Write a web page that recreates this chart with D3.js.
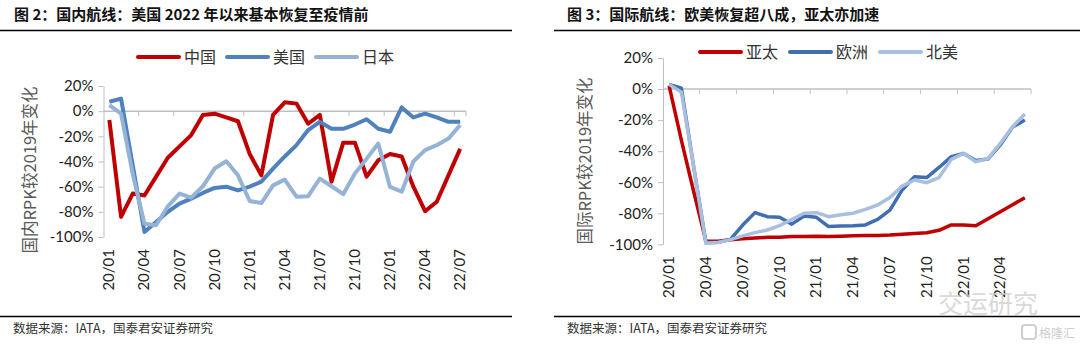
<!DOCTYPE html>
<html>
<head>
<meta charset="utf-8">
<script src="https://cdn.jsdelivr.net/npm/d3@7"></script>
<style>
  html, body { margin: 0; padding: 0; background: #fff; }
  svg { display: block; }
</style>
</head>
<body>
<div id="chart"></div>
<script>
// month categories
const months = ["20/01","20/02","20/03","20/04","20/05","20/06","20/07","20/08","20/09","20/10","20/11","20/12",
  "21/01","21/02","21/03","21/04","21/05","21/06","21/07","21/08","21/09","21/10","21/11","21/12",
  "22/01","22/02","22/03","22/04","22/05","22/06","22/07"]
const intlMonths = months.slice(0, 30)

// fig 2: domestic RPK vs 2019 (%)
const china = [-7,-84,-65.5,-67,-52,-37,-28,-19,-3,-2,-5,-8,-34,-51,-3,7,6,-10,-3,-56,-25,-25,-52,-39,-34,-36,-60,-79.5,-72,-51,-30]
const usa = [7.5,10,-43,-96,-88,-80,-73.5,-69.5,-65,-61,-60,-63,-60,-56,-45.6,-36,-27,-15,-8.5,-14,-14,-10.6,-6.4,-14,-16.4,3,-5,-2,-5,-8.5,-8.5]
const japan = [4.8,-2,-50,-89.4,-90.7,-75.6,-65.5,-68.7,-59.7,-45.6,-39.8,-51,-71.4,-73,-59,-54.4,-68,-67.6,-53.6,-59.7,-66,-49.6,-37.7,-25.7,-60.2,-64,-40,-31,-27,-21.8,-11]

// fig 3: international RPK vs 2019 (%)
const apac = [2,-33,-66,-98,-98,-97,-96.5,-96,-95.5,-95.5,-95,-95,-94.8,-95,-94.8,-94.5,-94.3,-94.3,-94,-93.5,-93,-92.5,-91,-87.5,-87.5,-88,-83.5,-79,-74.5,-70]
const europe = [3,0.5,-50,-99,-98.7,-96.8,-87.6,-79.6,-82.2,-82.6,-87,-81.8,-82.6,-88.6,-88.2,-88,-87.5,-84,-78,-65,-56.5,-57,-50.5,-43.5,-41.5,-46,-45,-36,-24.5,-20]
const northAm = [3,-2,-50,-99.4,-98.8,-97,-94.6,-92.5,-90.8,-88,-84,-80,-79.6,-82.2,-81,-80,-77.5,-74.7,-69.8,-62.5,-58.6,-60.3,-57,-45.3,-41.4,-46.8,-44.7,-35,-24.3,-16]

const yTicks = [20, 0, -20, -40, -60, -80, -100]
const leftLabels = ["20/01","20/04","20/07","20/10","21/01","21/04","21/07","21/10","22/01","22/04","22/07"]
const rightLabels = ["20/01","20/04","20/07","20/10","21/01","21/04","21/07","21/10","22/01","22/04"]

const W = 1080, H = 352
const svg = d3.select("#chart").append("svg")
  .attr("width", W).attr("height", H)
  .attr("viewBox", [0, 0, W, H])

const cjk = "'Noto Sans CJK SC', sans-serif"
const num = "Lato, 'Open Sans', sans-serif"
const axisGrey = "#BFBFBF"

const drawPanel = cfg => {
  const g = svg.append("g")

  // title + rules
  g.append("text")
    .attr("x", cfg.titleX).attr("y", 20)
    .attr("font-family", cjk).attr("font-weight", "bold")
    .attr("font-size", 15).attr("fill", "#111")
    .text(cfg.title)
  g.append("line")
    .attr("x1", cfg.ruleX[0]).attr("x2", cfg.ruleX[1])
    .attr("y1", 30.5).attr("y2", 30.5)
    .attr("stroke", "#000").attr("stroke-width", 1.5)
  g.append("line")
    .attr("x1", cfg.ruleX[0]).attr("x2", cfg.ruleX[1])
    .attr("y1", 316.5).attr("y2", 316.5)
    .attr("stroke", "#000").attr("stroke-width", 1.5)
  g.append("text")
    .attr("x", cfg.ruleX[0] + 13).attr("y", 333)
    .attr("font-family", cjk).attr("font-size", 12.5).attr("fill", "#333")
    .text("数据来源：IATA，国泰君安证券研究")

  const x = d3.scaleBand()
    .domain(cfg.cats)
    .range(cfg.xRange)
    .padding(0)
  const y = d3.scaleLinear()
    .domain([-100, 20])
    .range(cfg.yRange)
  const cx = d => x(d) + x.bandwidth() / 2

  // y axis
  const yAxis = d3.axisLeft(y).tickValues(yTicks).tickSize(5).tickSizeOuter(0)
    .tickFormat(d => d + "%")
  g.append("g")
    .attr("transform", `translate(${cfg.xRange[0]},0)`)
    .call(yAxis)
    .call(a => a.select(".domain").attr("stroke", axisGrey))
    .call(a => a.selectAll(".tick line").attr("stroke", axisGrey))
    .call(a => a.selectAll(".tick text")
      .attr("x", -10)
      .attr("font-family", num).attr("font-size", 15).attr("fill", "#222"))

  // category axis sits at 0%
  const y0 = y(0)
  g.append("line")
    .attr("x1", cfg.xRange[0]).attr("x2", cfg.xRange[1])
    .attr("y1", y0).attr("y2", y0)
    .attr("stroke", axisGrey).attr("stroke-width", 1.5)
  const boundaries = cfg.cats.map((c, i) => i).filter(i => i > 0 && i % 3 === 0)
    .map(i => x(cfg.cats[i]))
  boundaries.push(cfg.xRange[1])
  g.append("g").selectAll("line")
    .data(boundaries)
    .join("line")
    .attr("x1", d => d).attr("x2", d => d)
    .attr("y1", y0).attr("y2", y0 + 5)
    .attr("stroke", axisGrey)

  // rotated month labels at low position
  g.append("g").selectAll("text")
    .data(cfg.labels)
    .join("text")
    .attr("transform", d => `translate(${cx(d) + 5},${y(-100) + 12}) rotate(-90)`)
    .attr("text-anchor", "end")
    .attr("font-family", num).attr("font-size", 15).attr("fill", "#222")
    .text(d => d)

  // y title
  g.append("text")
    .attr("transform", `translate(${cfg.yTitle[0]},${cfg.yTitle[1]}) rotate(-90)`)
    .attr("text-anchor", "middle")
    .attr("font-family", cjk).attr("font-size", 16.5).attr("fill", "#595959")
    .text(cfg.yTitleText)

  // series
  const line = d3.line()
    .x((d, i) => cx(cfg.cats[i]))
    .y(d => y(d))
  g.append("g").selectAll("path")
    .data(cfg.series)
    .join("path")
    .attr("d", s => line(s.values))
    .attr("fill", "none")
    .attr("stroke", s => s.color)
    .attr("stroke-width", cfg.lineW)
    .attr("stroke-linejoin", "round")

  // legend
  const lg = g.append("g")
    .attr("transform", `translate(${cfg.legend[0]},${cfg.legend[1]})`)
  const item = lg.selectAll("g")
    .data(cfg.series)
    .join("g")
    .attr("transform", (d, i) => `translate(${i * cfg.legendStep},0)`)
  item.append("line")
    .attr("x1", 0).attr("x2", 41)
    .attr("stroke", d => d.color).attr("stroke-width", 4).attr("stroke-linecap", "round")
  item.append("text")
    .attr("x", 46).attr("y", 5.5)
    .attr("font-family", cjk).attr("font-size", 16).attr("fill", "#333")
    .text(d => d.name)
}

drawPanel({
  title: "图 2：国内航线：美国 2022 年以来基本恢复至疫情前",
  titleX: 14,
  ruleX: [0, 512],
  cats: months,
  labels: leftLabels,
  xRange: [103.5, 466],
  yRange: [237, 86],
  yTitle: [36, 170],
  yTitleText: "国内RPK较2019年变化",
  lineW: 4,
  legend: [138, 57],
  legendStep: 89,
  series: [
    {name: "中国", color: "#C00000", values: china},
    {name: "美国", color: "#4F81BD", values: usa},
    {name: "日本", color: "#95B3D7", values: japan}
  ]
})

drawPanel({
  title: "图 3：国际航线：欧美恢复超八成，亚太亦加速",
  titleX: 567,
  ruleX: [554, 1080],
  cats: intlMonths,
  labels: rightLabels,
  xRange: [663, 1031],
  yRange: [244.3, 58],
  yTitle: [591, 161],
  yTitleText: "国际RPK较2019年变化",
  lineW: 3.5,
  legend: [700, 52],
  legendStep: 90,
  series: [
    {name: "亚太", color: "#C00000", values: apac},
    {name: "欧洲", color: "#3F6FAE", values: europe},
    {name: "北美", color: "#A9BFE0", values: northAm}
  ]
})

// watermarks
svg.append("text")
  .attr("x", 938).attr("y", 313)
  .attr("font-family", cjk).attr("font-size", 25).attr("fill", "#d0d0d0")
  .attr("opacity", 0.8)
  .text("交运研究")
svg.append("rect")
  .attr("x", 1022).attr("y", 325).attr("width", 14).attr("height", 14).attr("rx", 3)
  .attr("fill", "none").attr("stroke", "#cfcfcf").attr("stroke-width", 2)
svg.append("text")
  .attr("x", 1039).attr("y", 338)
  .attr("font-family", cjk).attr("font-size", 12).attr("fill", "#cfcfcf")
  .text("格隆汇")
</script>
</body>
</html>
